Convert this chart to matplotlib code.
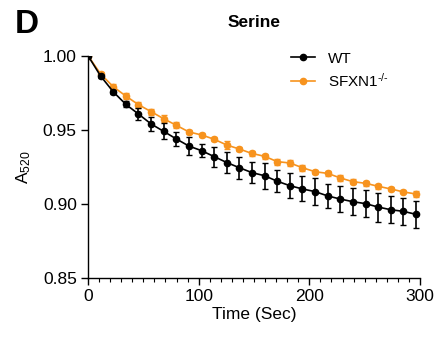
import numpy as np
from matplotlib import pyplot as plt
from matplotlib.ticker import MultipleLocator

plt.rcParams["font.family"] = ["Liberation Sans", "DejaVu Sans"]
plt.rcParams["mathtext.fontset"] = "custom"
plt.rcParams["mathtext.rm"] = "Liberation Sans"
plt.rcParams["mathtext.it"] = "Liberation Sans"

time_s = [0, 11.4, 22.8, 34.2, 45.6, 57.0, 68.4, 79.8, 91.2, 102.6, 114.0, 125.4, 136.8,
          148.2, 159.6, 171.0, 182.4, 193.8, 205.2, 216.6, 228.0, 239.4, 250.8, 262.2,
          273.6, 285.0, 296.4]

wt_mean = [1.000, 0.9863, 0.9757, 0.9672, 0.9607, 0.954, 0.949, 0.9439, 0.9391, 0.936,
           0.932, 0.928, 0.9245, 0.9212, 0.9191, 0.9154, 0.9124, 0.9102, 0.9084, 0.9055,
           0.9034, 0.9016, 0.9003, 0.898, 0.8962, 0.8951, 0.8931]
wt_err = [0, 0.001, 0.0015, 0.002, 0.0043, 0.0045, 0.0054, 0.0045, 0.0058, 0.0044,
          0.0067, 0.007, 0.0073, 0.007, 0.0086, 0.0073, 0.0083, 0.0084, 0.009, 0.008,
          0.009, 0.009, 0.0092, 0.0098, 0.009, 0.009, 0.009]

ko_mean = [1.000, 0.9877, 0.9791, 0.9728, 0.967, 0.9623, 0.9575, 0.9531, 0.9486, 0.9466,
           0.9437, 0.9398, 0.9371, 0.9341, 0.9322, 0.9286, 0.9277, 0.9245, 0.9218, 0.9207,
           0.9176, 0.9151, 0.914, 0.912, 0.9102, 0.9082, 0.9068]
ko_err = [0, 0.001, 0.0015, 0.002, 0.002, 0.002, 0.0025, 0.002, 0.0015, 0.0015,
          0.0015, 0.0025, 0.0015, 0.0015, 0.0015, 0.002, 0.002, 0.002, 0.0015, 0.0015,
          0.002, 0.0015, 0.0018, 0.0015, 0.0015, 0.001, 0.002]

orange = "#F7931E"

fig = plt.figure(figsize=(4.36, 3.41), dpi=100)
ax = fig.add_axes([0.2018, 0.1839, 0.7615, 0.6528])

ax.errorbar(time_s, wt_mean, yerr=wt_err, color="black", marker="o", markersize=4.5,
            linewidth=1.2, elinewidth=1.2, capsize=2.5, label="WT", zorder=3)
ax.errorbar(time_s, ko_mean, yerr=ko_err, color=orange, marker="o", markersize=4.5,
            linewidth=1.2, elinewidth=1.2, capsize=2.5,
            label=r"SFXN1$^{\text{-/-}}$", zorder=2)

ax.set_xlim(0, 300)
ax.set_ylim(0.85, 1.00)
ax.xaxis.set_major_locator(MultipleLocator(100))
ax.xaxis.set_minor_locator(MultipleLocator(10))
ax.yaxis.set_major_locator(MultipleLocator(0.05))
ax.yaxis.set_major_formatter(plt.FormatStrFormatter("%.2f"))
ax.tick_params(which="major", direction="out", length=5, width=1, labelsize=12.5, pad=3)
ax.tick_params(which="minor", direction="out", length=3, width=0.8)
for s in ["top", "right"]:
    ax.spines[s].set_visible(False)
for s in ["left", "bottom"]:
    ax.spines[s].set_linewidth(1)

ax.set_xlabel("Time (Sec)", fontsize=12.5, labelpad=2)
ax.set_ylabel("A$_{520}$", fontsize=12.5, labelpad=7)
ax.set_title("Serine", fontsize=12.5, fontweight="bold", pad=21)

handles, labels = ax.get_legend_handles_labels()
handles = [h[0] for h in handles]
ax.legend(handles, labels, loc="upper left", bbox_to_anchor=(0.593, 1.045), frameon=False,
          fontsize=11, handlelength=1.6, handletextpad=0.85, labelspacing=0.4,
          borderaxespad=0)

fig.text(0.033, 0.975, "D", fontsize=24, fontweight="bold", va="top", ha="left")

plt.savefig("out.png", dpi=100)
